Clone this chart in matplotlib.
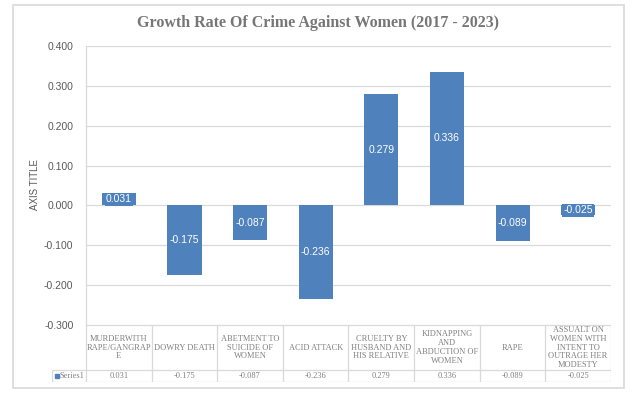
import matplotlib
matplotlib.use("Agg")
import matplotlib.pyplot as plt
from matplotlib.patches import Rectangle

# data
categories = ["MURDERWITH\nRAPE/GANGRAP\nE", "DOWRY DEATH", "ABETMENT TO\nSUICIDE OF\nWOMEN",
              "ACID ATTACK", "CRUELTY BY\nHUSBAND AND\nHIS RELATIVE",
              "KIDNAPPING\nAND\nABDUCTION OF\nWOMEN", "RAPE",
              "ASSUALT ON\nWOMEN WITH\nINTENT TO\nOUTRAGE HER\nMODESTY"]
values = [0.031, -0.175, -0.087, -0.236, 0.279, 0.336, -0.089, -0.025]
series_name = "Series1"
title = "Growth Rate Of Crime Against Women (2017 - 2023)"

W, H = 635, 401
blue = "#4f81bd"
grid = "#d9d9d9"
grey = "#595959"

fig = plt.figure(figsize=(W / 100, H / 100), dpi=100)


def fx(px):
    return px / W


def fy(py):
    return 1 - py / H


# outer chart border
fig.patches.append(Rectangle((fx(13), fy(388)), fx(624) - fx(13), fy(5) - fy(388),
                             transform=fig.transFigure, fill=False, ec=grid, lw=1.2))

left, right, top, bottom = 86, 611, 46, 325
ax = fig.add_axes([fx(left), fy(bottom), fx(right) - fx(left), fy(top) - fy(bottom)])
x = list(range(len(values)))
ax.bar(x, values, width=0.52, color=blue, zorder=3)
for xi, v in zip(x, values):
    ax.text(xi, v / 2, f"{v:.3f}", ha="center", va="center", color="white",
            fontsize=7.5, family="Liberation Sans", zorder=4,
            bbox=dict(boxstyle="square,pad=0.12", fc=blue, ec="none"))

ax.set_xlim(-0.5, len(values) - 0.5)
ax.set_ylim(-0.3, 0.4)
ax.set_yticks([i / 10 for i in range(-3, 5)])
ax.set_yticklabels([f"{i / 10:.3f}" for i in range(-3, 5)], fontsize=7.5,
                   family="Liberation Sans", color=grey)
ax.set_xticks([])
ax.tick_params(axis="y", length=0, pad=9)
ax.grid(axis="y", color=grid, lw=0.9, zorder=0)
for s in ["top", "right", "bottom"]:
    ax.spines[s].set_visible(False)
ax.spines["left"].set_color(grid)
ax.spines["left"].set_linewidth(0.9)

fig.text(fx(35), fy(185), "AXIS TITLE", rotation=90, ha="center", va="center",
         fontsize=7, family="Liberation Sans", color=grey)
fig.text(fx(318), fy(23), title, ha="center", va="center", fontsize=11.5,
         family="Liberation Serif", weight="bold", color="#767676")

# data table under the plot
colw = (right - left) / len(values)
leg_left = 52
tax = fig.add_axes([fx(leg_left), fy(382), fx(right) - fx(leg_left), fy(325) - fy(382)])
x0 = -0.5 - (left - leg_left) / colw
tax.set_xlim(x0, len(values) - 0.5)
tax.set_ylim(382, 325)
tax.axis("off")
tax.plot([-0.5, len(values) - 0.5], [325, 325], color=grid, lw=0.9)
for yy in [370, 382]:
    tax.plot([x0, len(values) - 0.5], [yy, yy], color=grid, lw=0.9)
for i in range(len(values) + 1):
    tax.plot([i - 0.5, i - 0.5], [325, 382], color=grid, lw=0.9)
tax.plot([x0, x0], [370, 382], color=grid, lw=0.9)

tfont = dict(family="Liberation Serif", fontsize=6, color="#808080", ha="center")
for xi, c, v in zip(x, categories, values):
    tax.text(xi, 347.5, c, va="center", linespacing=1.15, **tfont)
    tax.text(xi, 376, f"{v:.3f}", va="center", **tfont)
tax.add_patch(Rectangle((x0 + 3 / colw, 374), 4 / colw, 4, color=blue, clip_on=False))
tax.text(x0 + 8 / colw, 376, series_name, va="center", family="Liberation Serif",
         fontsize=6, color="#808080")

fig.savefig("out.png", dpi=100)
